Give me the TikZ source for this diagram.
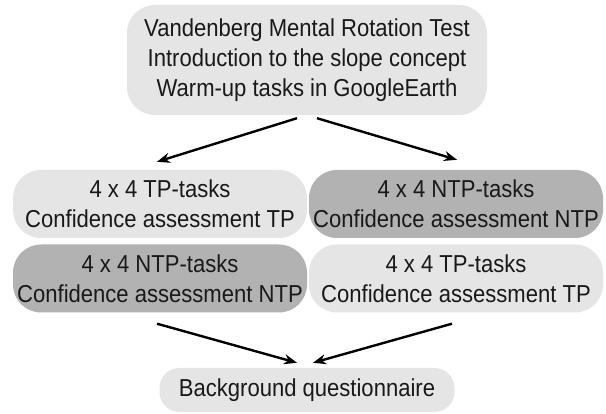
\documentclass[tikz,border=0pt]{standalone}
\usepackage{fontspec}
\setmainfont{Liberation Sans}[FakeStretch=0.9]
\usetikzlibrary{arrows.meta}
\definecolor{boxlight}{gray}{0.90}
\definecolor{boxdark}{gray}{0.70}
\begin{document}
\begin{tikzpicture}[x=1pt,y=-1pt,
  box/.style={rounded corners=28pt, inner sep=0pt, align=center,
    font=\fontsize{24.5}{30}\selectfont, text=black!90},
  light/.style={box, fill=boxlight},
  dark/.style={box, fill=boxdark},
  rowbox/.style={minimum width=294pt, minimum height=68pt},
  arr/.style={line width=2.4pt, -{Stealth[length=13pt,width=10pt]}}]
\useasboundingbox (0,0) rectangle (606,414);
\fill[white] (0,0) rectangle (606,414);
\node[light, minimum width=360pt, minimum height=110pt] (top) at (307,60)
  {Vandenberg Mental Rotation Test\\Introduction to the slope concept\\Warm-up tasks in GoogleEarth};
\node[light, rowbox] (a1) at (160,204) {4 x 4 TP-tasks\\Confidence assessment TP};
\node[dark, rowbox] (b1) at (456,204) {4 x 4 NTP-tasks\\Confidence assessment NTP};
\node[dark, rowbox] (a2) at (160,278.5) {4 x 4 NTP-tasks\\Confidence assessment NTP};
\node[light, rowbox] (b2) at (456,278.5) {4 x 4 TP-tasks\\Confidence assessment TP};
\node[light, rounded corners=20pt, minimum width=295pt, minimum height=44pt] (bq) at (307,390)
  {Background questionnaire};
\draw[arr] ([xshift=-10pt,yshift=-3pt]top.south) -- ([xshift=-3pt,yshift=8pt]a1.north);
\draw[arr] ([xshift=10pt,yshift=-3pt]top.south) -- ([xshift=1pt,yshift=10pt]b1.north);
\draw[arr] ([xshift=-3pt,yshift=-11pt]a2.south) -- ([xshift=-10pt,yshift=5pt]bq.north);
\draw[arr] ([xshift=-4pt,yshift=-11pt]b2.south) -- ([xshift=6pt,yshift=5pt]bq.north);
\end{tikzpicture}
\end{document}
